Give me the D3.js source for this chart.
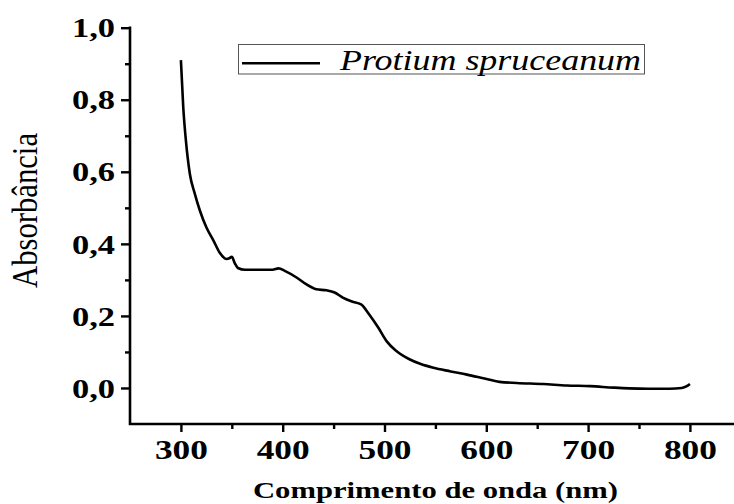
<!DOCTYPE html>
<html><head><meta charset="utf-8">
<script src="https://cdn.jsdelivr.net/npm/d3@7"></script>
<style>body{margin:0;background:#fff}svg{display:block}</style>
</head><body>
<svg id="c" width="734" height="504"></svg>
<script>
const wavelength = [300,302.3,304.9,308.8,313.7,318.7,325,332,338,345,347.5,350,353,356,363,390,396,402,414,423,433,443,451,459,468,477,485,494,502,512,525,535,548,565,581,597,613,630,656,679,702,725,740,760,780,792,797,800];
const absorbance = [0.91,0.78,0.687,0.594,0.539,0.492,0.446,0.409,0.376,0.358,0.36,0.364,0.346,0.333,0.328,0.328,0.332,0.325,0.306,0.288,0.274,0.271,0.265,0.251,0.24,0.232,0.204,0.167,0.13,0.102,0.079,0.067,0.056,0.046,0.037,0.027,0.017,0.014,0.011,0.007,0.005,0.001,-0.001,-0.002,-0.002,0.0,0.005,0.011];
const xTicks = [300,400,500,600,700,800];
const xMinor = [350,450,550,650,750];
const yTicks = [0.0,0.2,0.4,0.6,0.8,1.0];
const yMinor = [0.1,0.3,0.5,0.7,0.9];
const seriesName = "Protium spruceanum";
const xTitle = "Comprimento de onda (nm)";
const yTitle = "Absorbância";

const svg = d3.select("#c");
const x = d3.scaleLinear().domain([250,850]).range([130, 130 + 600*1.018]);
const y = d3.scaleLinear().domain([-0.1,1.0]).range([424, 27.7]);
const fmt = d => d3.format(".1f")(d).replace(".", ",");
const serif = "Liberation Serif, Times New Roman, serif";

// curve
const line = d3.line().x((d,i)=>x(wavelength[i])).y(d=>y(d)).curve(d3.curveMonotoneX);
svg.append("path").datum(absorbance).attr("d", line)
  .attr("fill","none").attr("stroke","#000").attr("stroke-width",2.6).attr("stroke-linejoin","round");

// x axis
const gx = svg.append("g").attr("transform",`translate(0,${y(-0.1)})`);
gx.call(d3.axisBottom(x).tickValues(xTicks).tickSize(8).tickSizeOuter(0).tickFormat(d3.format("d")));
gx.append("g").call(d3.axisBottom(x).tickValues(xMinor).tickSize(5).tickFormat(""));
gx.selectAll(".domain").remove();
gx.selectAll(".tick line").attr("stroke-width",2.4);
gx.selectAll(".tick text").attr("font-family",serif).attr("font-weight","bold").attr("font-size",28)
  .attr("fill","#000").attr("dy",0).attr("y",35).attr("textLength",53).attr("lengthAdjust","spacingAndGlyphs");

// y axis
const gy = svg.append("g").attr("transform",`translate(${x(250)},0)`);
gy.call(d3.axisLeft(y).tickValues(yTicks).tickSize(9).tickSizeOuter(0).tickFormat(fmt));
gy.append("g").call(d3.axisLeft(y).tickValues(yMinor).tickSize(5).tickFormat(""));
gy.selectAll(".domain").remove();
gy.selectAll(".tick line").attr("stroke-width",2.4);
gy.selectAll(".tick text").attr("font-family",serif).attr("font-weight","bold").attr("font-size",27)
  .attr("fill","#000").attr("x",-15).attr("dy","0.34em").attr("textLength",43).attr("lengthAdjust","spacingAndGlyphs");

// axis lines
svg.append("path").attr("d", `M${x(250)},${y(1.0)}V${y(-0.1)}H${x(850)}`)
  .attr("fill","none").attr("stroke","#000").attr("stroke-width",2.6).attr("stroke-linecap","square");

// titles
svg.append("text").attr("x",435.5).attr("y",497.5).attr("text-anchor","middle")
  .attr("font-family",serif).attr("font-weight","bold").attr("font-size",23)
  .attr("textLength",365).attr("lengthAdjust","spacingAndGlyphs").text(xTitle);
svg.append("text").attr("transform","translate(37,210.5) rotate(-90)").attr("text-anchor","middle")
  .attr("font-family",serif).attr("font-size",35)
  .attr("textLength",155).attr("lengthAdjust","spacingAndGlyphs").text(yTitle);

// legend
const lg = svg.append("g");
lg.append("rect").attr("x",238.5).attr("y",44.5).attr("width",406).attr("height",29.5)
  .attr("fill","#fff").attr("stroke","#555").attr("stroke-width",1);
lg.append("line").attr("x1",242).attr("x2",320).attr("y1",63.3).attr("y2",63.3)
  .attr("stroke","#000").attr("stroke-width",2.6);
lg.append("text").attr("x",340).attr("y",69.5).attr("font-family",serif).attr("font-style","italic")
  .attr("font-size",30).attr("textLength",301).attr("lengthAdjust","spacingAndGlyphs").text(seriesName);
</script>
</body></html>
